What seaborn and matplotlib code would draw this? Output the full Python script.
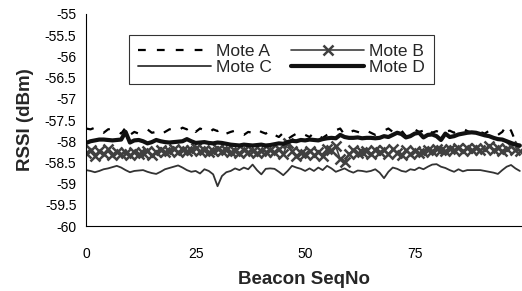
# RSSI per beacon for four motes
import matplotlib
matplotlib.use("Agg")
import matplotlib.pyplot as plt
import numpy as np
import pandas as pd
import seaborn as sns

seq_no = list(range(100))

mote_a = [
    -57.70, -57.72, -57.68, -57.75, -57.80, -57.72, -57.70, -57.75, -57.82, -57.68, -57.85, -57.78, -57.82, -57.75, -57.72, -57.80, -57.78,
    -57.85, -57.78, -57.72, -57.70, -57.75, -57.68, -57.72, -57.65, -57.78, -57.70, -57.74, -57.80, -57.72, -57.76, -57.70, -57.82, -57.78,
    -57.75, -57.82, -57.85, -57.78, -57.80, -57.72, -57.78, -57.82, -57.75, -57.85, -57.90, -57.80, -57.95, -57.88, -57.82, -57.78,
    -57.85, -57.90, -57.80, -57.88, -57.92, -57.85, -57.80, -57.74, -57.70, -57.85, -57.80, -57.75, -57.78, -57.82, -57.75, -57.80, -57.85,
    -57.80, -57.75, -57.70, -57.78, -57.82, -57.75, -57.88, -57.80, -57.72, -57.78, -57.75, -57.68, -57.80, -57.76, -57.82, -57.78, -57.75,
    -57.80, -57.74, -57.70, -57.76, -57.80, -57.72, -57.78, -57.82, -57.75, -57.80, -57.85, -57.78, -57.62, -57.75, -58.00, -57.90,
]
mote_b = [
    -58.28, -58.20, -58.35, -58.22, -58.30, -58.18, -58.32, -58.25, -58.30, -58.28, -58.33, -58.25, -58.30, -58.27, -58.22, -58.33, -58.26,
    -58.20, -58.25, -58.22, -58.18, -58.25, -58.21, -58.24, -58.20, -58.15, -58.23, -58.20, -58.26, -58.22, -58.19, -58.24, -58.20, -58.26,
    -58.22, -58.27, -58.20, -58.26, -58.24, -58.28, -58.22, -58.25, -58.21, -58.26, -58.18, -58.30, -58.05, -58.22, -58.35, -58.28,
    -58.30, -58.22, -58.33, -58.25, -58.35, -58.18, -58.20, -58.12, -58.42, -58.50, -58.30, -58.20, -58.28, -58.25, -58.22, -58.30, -58.20,
    -58.25, -58.20, -58.30, -58.18, -58.28, -58.32, -58.20, -58.30, -58.22, -58.28, -58.25, -58.20, -58.22, -58.18, -58.20, -58.22, -58.18,
    -58.20, -58.15, -58.22, -58.17, -58.21, -58.15, -58.20, -58.18, -58.12, -58.20, -58.15, -58.22, -58.18, -58.12, -58.20, -58.22,
]
mote_c = [
    -58.68, -58.70, -58.73, -58.70, -58.66, -58.64, -58.61, -58.58, -58.62, -58.68, -58.73, -58.70, -58.69, -58.68, -58.72, -58.75, -58.77,
    -58.72, -58.66, -58.63, -58.60, -58.57, -58.62, -58.68, -58.72, -58.70, -58.76, -58.66, -58.70, -58.78, -59.06, -58.82, -58.73, -58.70,
    -58.64, -58.68, -58.62, -58.66, -58.55, -58.68, -58.78, -58.65, -58.64, -58.65, -58.72, -58.80, -58.70, -58.58, -58.62, -58.65,
    -58.70, -58.64, -58.70, -58.62, -58.68, -58.58, -58.64, -58.72, -58.68, -58.64, -58.70, -58.74, -58.69, -58.70, -58.72, -58.70, -58.66,
    -58.74, -58.87, -58.72, -58.62, -58.65, -58.70, -58.72, -58.66, -58.68, -58.62, -58.66, -58.60, -58.55, -58.54, -58.60, -58.63, -58.68,
    -58.72, -58.66, -58.71, -58.68, -58.68, -58.68, -58.68, -58.70, -58.72, -58.74, -58.77, -58.68, -58.60, -58.56, -58.64, -58.70,
]
mote_d = [
    -58.04, -58.00, -57.98, -57.96, -57.96, -57.97, -57.98, -57.97, -57.96, -57.78, -58.03, -57.98, -57.97, -58.00, -58.05, -58.02, -57.97,
    -58.00, -58.02, -58.03, -58.02, -58.01, -58.00, -57.95, -58.00, -58.04, -58.03, -58.02, -58.04, -58.05, -58.03, -58.04, -58.06, -58.08,
    -58.09, -58.10, -58.08, -58.09, -58.10, -58.09, -58.08, -58.10, -58.09, -58.07, -58.05, -58.06, -58.02, -57.99, -58.00, -57.97,
    -57.98, -57.96, -57.97, -57.98, -57.95, -57.93, -57.92, -57.93, -57.85, -57.90, -57.92, -57.92, -57.91, -57.93, -57.92, -57.92, -57.93,
    -57.92, -57.88, -57.90, -57.85, -57.80, -57.83, -57.91, -57.88, -57.82, -57.80, -57.91, -57.85, -57.84, -57.88, -57.97, -57.82, -57.90,
    -57.88, -57.84, -57.82, -57.80, -57.79, -57.80, -57.83, -57.86, -57.88, -57.92, -57.95, -57.96, -58.00, -58.04, -58.08, -58.10,
]

y_ticks = [-55, -55.5, -56, -56.5, -57, -57.5, -58, -58.5, -59, -59.5, -60]
x_ticks = [0, 25, 50, 75]

sns.set_style("white")
plt.rcParams["font.family"] = ["Liberation Sans", "DejaVu Sans"]

fig = plt.figure(figsize=(5.22, 2.91), dpi=100)
ax = fig.add_axes([0.165, 0.223, 0.835, 0.729])

sns.lineplot(x=seq_no, y=mote_a, ax=ax, color="black", linewidth=1.6,
             linestyle=(0, (3.5, 5)), label="Mote A")
sns.lineplot(x=seq_no, y=mote_b, ax=ax, color="#404040", linewidth=1.2,
             marker="x", markersize=7, markeredgewidth=1.8,
             markeredgecolor="#404040", label="Mote B")
sns.lineplot(x=seq_no, y=mote_c, ax=ax, color="#333333", linewidth=1.3,
             label="Mote C")
sns.lineplot(x=seq_no, y=mote_d, ax=ax, color="#111111", linewidth=3.0,
             label="Mote D")

ax.set_xlim(0, 99.5)
ax.set_ylim(-60, -55)
ax.set_yticks(y_ticks)
ax.set_yticklabels([f"{t:g}" for t in y_ticks])
ax.set_xticks(x_ticks)
ax.tick_params(axis="both", direction="out", length=4, width=0.8,
               colors="black", labelsize=10)
ax.tick_params(axis="x", pad=11)
ax.tick_params(axis="y", pad=3)

for side in ["top", "right"]:
    ax.spines[side].set_visible(False)
for side in ["left", "bottom"]:
    ax.spines[side].set_color("black")
    ax.spines[side].set_linewidth(0.8)

ax.set_xlabel("Beacon SeqNo", fontsize=13.5, fontweight="bold", labelpad=7)
ax.set_ylabel("RSSI (dBm)", fontsize=13.5, fontweight="bold", labelpad=8)

# legend reads row by row: A, B / C, D
handles, labels = ax.get_legend_handles_labels()
order = [0, 2, 1, 3]
leg = ax.legend([handles[i] for i in order], [labels[i] for i in order],
                ncol=2, loc="upper left", bbox_to_anchor=(0.099, 0.9),
                fontsize=12.5, frameon=True, fancybox=False,
                handlelength=4.2, handletextpad=0.3, columnspacing=1.1,
                borderpad=0.5, labelspacing=0.05, borderaxespad=0)
leg.get_frame().set_edgecolor("black")
leg.get_frame().set_linewidth(0.8)

fig.savefig("out.png", dpi=100)
